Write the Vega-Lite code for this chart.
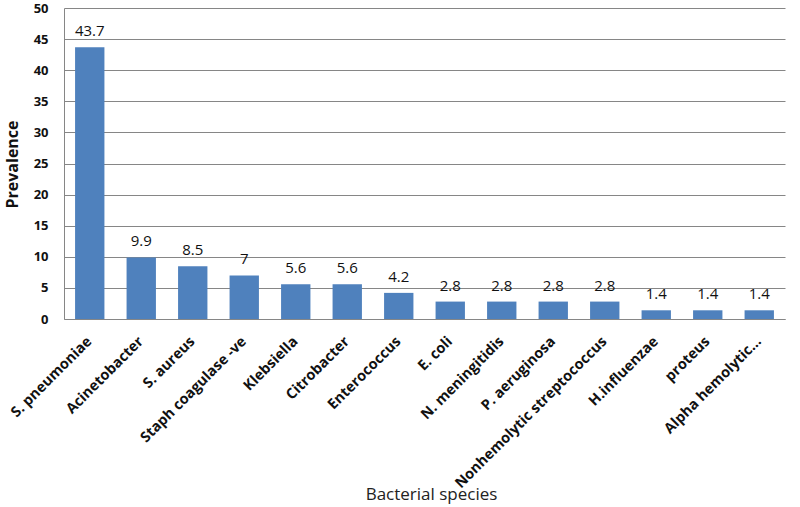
{
  "$schema": "https://vega.github.io/schema/vega-lite/v6.json",
  "autosize": {"type": "none"},
  "width": 721,
  "height": 311,
  "padding": {"left": 64, "top": 8, "right": 15, "bottom": 188},
  "background": "white",
  "config": {
    "view": {"stroke": null},
    "font": "Open Sans"
  },
  "data": {
    "values": [
      {"species": "S. pneumoniae", "prevalence": 43.7},
      {"species": "Acinetobacter", "prevalence": 9.9},
      {"species": "S. aureus", "prevalence": 8.5},
      {"species": "Staph coagulase -ve", "prevalence": 7},
      {"species": "Klebsiella", "prevalence": 5.6},
      {"species": "Citrobacter", "prevalence": 5.6},
      {"species": "Enterococcus", "prevalence": 4.2},
      {"species": "E. coli", "prevalence": 2.8},
      {"species": "N. meningitidis", "prevalence": 2.8},
      {"species": "P. aeruginosa", "prevalence": 2.8},
      {"species": "Nonhemolytic streptococcus", "prevalence": 2.8},
      {"species": "H.influenzae", "prevalence": 1.4},
      {"species": "proteus", "prevalence": 1.4},
      {"species": "Alpha hemolytic…", "prevalence": 1.4}
    ]
  },
  "encoding": {
    "x": {
      "field": "species",
      "type": "nominal",
      "sort": null,
      "scale": {"paddingInner": 0.43, "paddingOuter": 0.215},
      "axis": {
        "title": "Bacterial species",
        "titleFont": "Open Sans",
        "titleFontSize": 17,
        "titleFontWeight": "normal",
        "titleColor": "#222",
        "titleX": 367,
        "titleY": 175,
        "titleBaseline": "middle",
        "labelAngle": -45,
        "labelAlign": "right",
        "labelBaseline": "middle",
        "labelFontSize": 14.5,
        "labelFontWeight": "bold",
        "labelColor": "#111",
        "labelPadding": 20,
        "labelLimit": 300,
        "ticks": false,
        "domainColor": "#868686",
        "grid": false
      }
    },
    "y": {
      "field": "prevalence",
      "type": "quantitative",
      "scale": {"domain": [0, 50], "nice": false},
      "axis": {
        "title": "Prevalence",
        "titleFontSize": 16,
        "titleFontWeight": "bold",
        "titleColor": "#111",
        "titleX": -52,
        "titleY": 156,
        "titleBaseline": "middle",
        "titleAlign": "center",
        "values": [0, 5, 10, 15, 20, 25, 30, 35, 40, 45, 50],
        "labelFontSize": 13,
        "labelFontWeight": "bold",
        "labelColor": "#111",
        "labelPadding": 16,
        "ticks": false,
        "domainColor": "#868686",
        "gridColor": "#868686",
        "gridOpacity": 1
      }
    }
  },
  "layer": [
    {"mark": {"type": "bar", "color": "#4f81bd"}},
    {
      "mark": {"type": "text", "baseline": "alphabetic", "dy": -11, "fontSize": 15, "color": "#111"},
      "encoding": {"text": {"field": "prevalence", "type": "quantitative"}}
    }
  ]
}
